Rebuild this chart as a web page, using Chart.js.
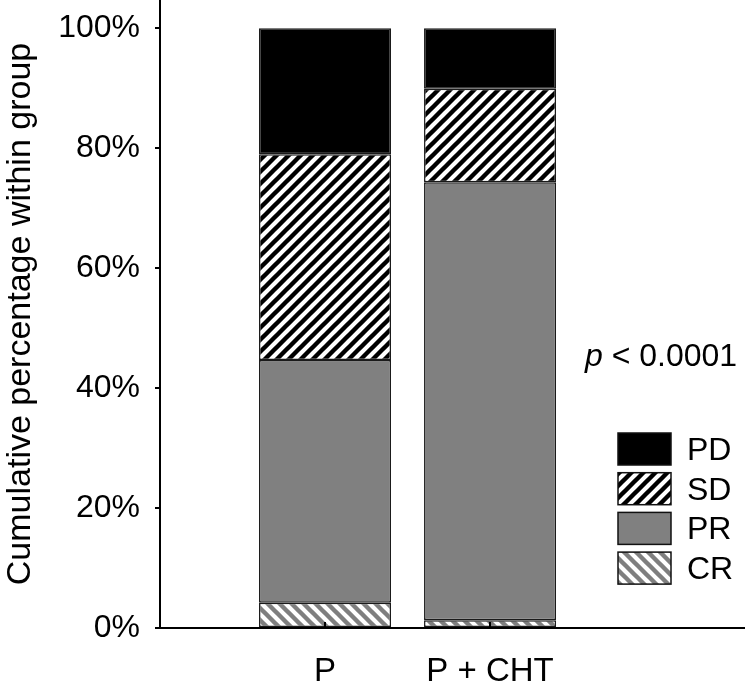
<!DOCTYPE html>
<html>
<head>
<meta charset="utf-8">
<script src="https://cdn.jsdelivr.net/npm/chart.js@4/dist/chart.umd.min.js"></script>
<style>
  html, body { margin: 0; padding: 0; background: #fff; }
  #wrap { width: 745px; height: 690px; }
</style>
</head>
<body>
<div id="wrap"><canvas id="myChart" width="745" height="690"></canvas></div>
<script>
// data (percent within group)
const groups = ["P", "P + CHT"];
const groupPos = [1, 2];
const crValues = [4.2, 1.3];
const prValues = [40.5, 73.0];
const sdValues = [34.3, 15.6];
const pdValues = [21.0, 10.1];
const yTicks = [0, 20, 40, 60, 80, 100];
const pText = " < 0.0001";

const FONT = "'Liberation Sans', Arial, Helvetica, sans-serif";

// striped fills
function stripes(color, dir) {
  const t = document.createElement("canvas");
  t.width = 12;
  t.height = 12;
  const g = t.getContext("2d");
  g.fillStyle = "#fff";
  g.fillRect(0, 0, 12, 12);
  g.strokeStyle = color;
  g.lineWidth = 4.4;
  g.beginPath();
  if (dir === "/") {
    g.moveTo(-6, 6); g.lineTo(6, -6);
    g.moveTo(-6, 18); g.lineTo(18, -6);
    g.moveTo(6, 18); g.lineTo(18, 6);
  } else {
    g.moveTo(-6, -6); g.lineTo(18, 18);
    g.moveTo(-6, 6); g.lineTo(6, 18);
    g.moveTo(6, -6); g.lineTo(18, 6);
  }
  g.stroke();
  return g.createPattern(t, "repeat");
}

const sdPattern = stripes("#000", "/");
const crPattern = stripes("#7f7f7f", "\\");

function toPoints(vals) {
  return vals.map((v, i) => ({ x: groupPos[i], y: v }));
}

// legend, p value and inner x ticks
const extras = {
  id: "extras",
  afterDatasetsDraw(chart) {
    const c = chart.ctx;
    const x = chart.scales.x;
    const bottom = chart.chartArea.bottom;
    c.save();
    c.strokeStyle = "#000";
    c.lineWidth = 2;
    groupPos.forEach((v) => {
      const px = Math.round(x.getPixelForValue(v));
      c.beginPath();
      c.moveTo(px, bottom);
      c.lineTo(px, bottom - 6);
      c.stroke();
    });
    c.restore();
  },
  afterDraw(chart) {
    const c = chart.ctx;
    c.save();
    // legend, top entry first
    const order = [3, 2, 1, 0];
    order.forEach((di, row) => {
      const ds = chart.data.datasets[di];
      const top = 433 + row * 39.7;
      c.fillStyle = ds.backgroundColor;
      c.fillRect(618, top, 53, 32);
      c.strokeStyle = "#111";
      c.lineWidth = 1.5;
      c.strokeRect(618, top, 53, 32);
      c.fillStyle = "#000";
      c.font = "32px " + FONT;
      c.textBaseline = "alphabetic";
      c.fillText(ds.label, 687, top + 27);
    });
    // p value
    c.font = "italic 32px " + FONT;
    c.fillText("p", 585, 366);
    const w = c.measureText("p").width;
    c.font = "32px " + FONT;
    c.fillText(pText, 585 + w, 366);
    c.restore();
  }
};

const context = document.getElementById("myChart").getContext("2d");
const myChart = new Chart(context, {
  type: "bar",
  data: {
    datasets: [
      { label: "CR", data: toPoints(crValues), backgroundColor: crPattern },
      { label: "PR", data: toPoints(prValues), backgroundColor: "#808080" },
      { label: "SD", data: toPoints(sdValues), backgroundColor: sdPattern },
      { label: "PD", data: toPoints(pdValues), backgroundColor: "#000" }
    ]
  },
  options: {
    responsive: false,
    animation: false,
    layout: { padding: 0 },
    datasets: {
      bar: {
        barPercentage: 1,
        categoryPercentage: 0.8,
        borderColor: "#1a1a1a",
        borderWidth: 1.5,
        borderSkipped: false
      }
    },
    plugins: {
      legend: { display: false },
      tooltip: { enabled: false }
    },
    scales: {
      x: {
        type: "linear",
        stacked: true,
        offset: false,
        min: 0,
        max: 3.545,
        afterBuildTicks: (s) => { s.ticks = groupPos.map((v) => ({ value: v })); },
        afterFit: (s) => { s.height = 62; s.paddingLeft = 0; s.paddingRight = 0; },
        ticks: {
          callback: (v) => { const i = groupPos.indexOf(v); return i < 0 ? "" : groups[i]; },
          font: { family: FONT, size: 33 },
          color: "#000",
          padding: 24,
          maxRotation: 0,
          autoSkip: false
        },
        grid: { display: false, drawTicks: false, offset: false },
        border: { color: "#000", width: 2 }
      },
      y: {
        stacked: true,
        min: 0,
        max: 104.7,
        afterBuildTicks: (s) => { s.ticks = yTicks.map((v) => ({ value: v })); },
        afterFit: (s) => { s.width = 160; s.paddingTop = 0; s.paddingBottom = 0; },
        ticks: {
          callback: (v) => v + "%",
          font: { family: FONT, size: 32 },
          color: "#000",
          padding: 15
        },
        grid: { drawOnChartArea: false, drawTicks: true, tickLength: 5, color: "#000", lineWidth: 2 },
        border: { color: "#000", width: 2 },
        title: {
          display: true,
          text: "Cumulative percentage within group",
          font: { family: FONT, size: 34 },
          color: "#000",
          padding: { top: 0, bottom: 0 }
        }
      }
    }
  },
  plugins: [extras]
});
</script>
</body>
</html>
